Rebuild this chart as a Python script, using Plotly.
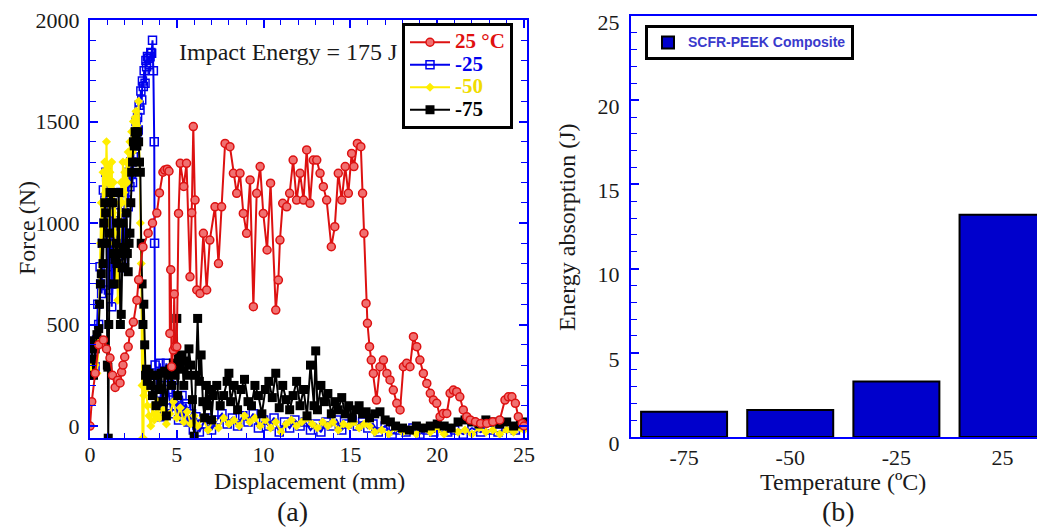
import plotly.graph_objects as go

# ---------------- Panel (a): force-displacement data ----------------
red_pts = [(0.0, 0), (0.1, 120), (0.3, 260), (0.5, 400), (0.77, 424), (0.95, 380), (1.15, 335), (1.3, 250),
           (1.45, 190), (1.6, 226), (1.73, 212), (1.82, 266), (1.9, 300), (2.0, 340), (2.2, 390), (2.3, 458),
           (2.5, 512), (2.7, 620), (2.8, 720), (3.05, 882), (3.35, 950), (3.6, 1000), (3.85, 1049), (4.0, 1148),
           (4.2, 1250), (4.3, 1261), (4.45, 1265), (4.55, 1255), (4.6, 456), (4.65, 770), (4.7, 292), (4.8, 374),
           (4.85, 650), (4.9, 390), (5.0, 390), (5.1, 1047), (5.2, 1294), (5.4, 1180), (5.56, 1294), (5.76, 735),
           (5.86, 1050), (5.95, 1475), (6.05, 1113), (6.15, 670), (6.34, 653), (6.53, 949), (6.72, 670), (6.9, 916),
           (7.2, 1080), (7.4, 800), (7.58, 1080), (7.78, 1392), (8.06, 1376), (8.26, 1245), (8.45, 1146), (8.64, 1245),
           (8.83, 1047), (9.02, 949), (9.22, 1212), (9.41, 588), (9.6, 1146), (9.8, 1278), (9.98, 1047), (10.2, 867),
           (10.4, 1196), (10.7, 571), (10.85, 719), (10.94, 916), (11.1, 1097), (11.33, 1080), (11.5, 1146), (11.7, 1310),
           (11.9, 1113), (12.1, 1245), (12.3, 1113), (12.48, 1360), (12.67, 1097), (12.86, 1310), (13.06, 1310),
           (13.25, 1245), (13.44, 1179), (13.63, 1113), (13.9, 883), (14.1, 982), (14.3, 1245), (14.5, 1113),
           (14.7, 1278), (14.88, 1146), (15.07, 1343), (15.2, 1278), (15.4, 1392), (15.6, 1376), (15.7, 1146),
           (15.78, 949), (15.9, 604), (15.98, 506), (16.1, 391), (16.2, 325), (16.32, 259), (16.5, 128), (16.7, 292),
           (16.9, 325), (17.1, 259), (17.28, 227), (17.47, 177), (17.67, 112), (17.86, 79), (18.05, 292), (18.24, 309),
           (18.43, 292), (18.63, 440), (18.82, 391), (19.0, 325), (19.2, 259), (19.4, 210), (19.6, 161), (19.78, 128),
           (19.97, 112), (20.16, 46), (20.35, 62), (20.55, 62), (20.74, 161), (20.93, 177), (21.12, 169), (21.3, 144),
           (21.5, 79), (21.7, 46), (21.9, 30), (22.2, 21), (22.5, 13), (22.85, 13), (23.2, 21), (23.6, 30),
           (23.9, 128), (24.1, 144), (24.3, 144), (24.5, 112), (24.67, 46), (24.9, 13), (25.0, 0)]

blue_pts = [(0.0, 300), (0.05, 250), (0.1, 391), (0.2, 280), (0.29, 292), (0.38, 424), (0.45, 600), (0.5, 500),
            (0.58, 785), (0.62, 700), (0.67, 653), (0.72, 900), (0.77, 1163), (0.82, 1000), (0.86, 1113), (0.92, 1250),
            (0.96, 1228), (1.0, 1100), (1.06, 670), (1.12, 900), (1.18, 1150), (1.25, 588), (1.3, 700), (1.34, 785),
            (1.4, 1050), (1.44, 949), (1.5, 700), (1.54, 883), (1.6, 1000), (1.63, 933), (1.7, 780), (1.73, 965),
            (1.78, 1150), (1.82, 785), (1.88, 900), (1.92, 818), (1.97, 1050), (2.0, 850), (2.05, 950), (2.1, 1113),
            (2.15, 1200), (2.2, 1080), (2.25, 1250), (2.3, 1179), (2.35, 1300), (2.4, 1245), (2.45, 1200), (2.5, 1327),
            (2.55, 1380), (2.6, 1442), (2.65, 1500), (2.69, 1425), (2.74, 1520), (2.78, 1458), (2.83, 1580),
            (2.88, 1557), (2.93, 1650), (2.98, 1606), (3.02, 1700), (3.07, 1672), (3.12, 1750), (3.17, 1688),
            (3.22, 1800), (3.26, 1770), (3.31, 1820), (3.36, 1811), (3.41, 1780), (3.46, 1819), (3.5, 1840),
            (3.55, 1836), (3.6, 1900), (3.65, 1750), (3.7, 1400), (3.72, 900), (3.75, 300), (3.8, 250), (3.9, 161),
            (4.03, 309), (4.1, 46), (4.2, 120), (4.3, 200), (4.4, 309), (4.5, 180), (4.6, 128), (4.7, 60), (4.8, 227),
            (4.9, 100), (5.0, 128), (5.1, 30), (5.2, 79), (5.3, 150), (5.4, 46), (5.5, 110), (5.57, 95), (5.65, 20),
            (5.76, 30), (5.85, 60), (5.95, -20), (6.1, 46), (6.3, -30), (6.5, 10), (6.8, 40), (7.0, -20), (7.3, 30),
            (7.6, 60), (7.9, 10), (8.2, 40), (8.5, 0), (8.8, 50), (9.1, 20), (9.4, 60), (9.7, -10), (10.0, 30),
            (10.3, 0), (10.6, 40), (10.9, -30), (11.2, 20), (11.5, -10), (11.8, 30), (12.1, 0), (12.4, 20),
            (12.7, -20), (13.0, 10), (13.3, -30), (13.6, 20), (13.9, 0), (14.2, 30), (14.5, -20), (14.8, 10),
            (15.1, 30), (15.4, 0), (15.7, 20), (16.0, -10), (16.3, 10), (16.6, -30), (17.0, 0), (17.4, -40),
            (17.8, -20), (18.2, -30), (18.6, -10), (19.0, -40), (19.4, -20), (19.8, -30), (20.2, -10), (20.6, -30),
            (21.0, -20), (21.5, -40), (22.0, -10), (22.5, -30), (23.0, -20), (23.5, -30), (24.0, -10), (24.5, -20),
            (25.0, 0)]

yellow_pts = [(0.0, 300), (0.1, 320), (0.2, 280), (0.3, 300), (0.4, 260), (0.5, 420), (0.55, 700), (0.6, 900),
              (0.65, 1100), (0.7, 800), (0.75, 1250), (0.8, 1000), (0.85, 1300), (0.9, 1150), (0.95, 1400),
              (1.0, 1200), (1.05, 1280), (1.1, 900), (1.15, 1250), (1.2, 1100), (1.25, 1300), (1.3, 1050),
              (1.35, 1200), (1.4, 950), (1.45, 1100), (1.5, 700), (1.55, 880), (1.6, 620), (1.65, 880), (1.7, 800),
              (1.75, 1000), (1.8, 1200), (1.85, 1100), (1.9, 1300), (1.95, 1150), (2.0, 1250), (2.05, 1050),
              (2.1, 1300), (2.15, 1200), (2.2, 1350), (2.25, 1250), (2.3, 1400), (2.35, 1300), (2.4, 1450),
              (2.45, 1350), (2.5, 1500), (2.55, 1400), (2.6, 1520), (2.65, 1550), (2.7, 1480), (2.75, 1400),
              (2.8, 1600), (2.85, 1300), (2.9, 1000), (2.95, 800), (3.0, 200), (3.02, -60), (3.05, 600), (3.08, -60),
              (3.1, 150), (3.2, 180), (3.3, 100), (3.4, 50), (3.5, 0), (3.6, 100), (3.7, 30), (3.8, 60), (3.9, 120),
              (4.0, 40), (4.2, 80), (4.4, 10), (4.6, 60), (4.8, 120), (5.0, 40), (5.2, 90), (5.4, 20), (5.6, 70),
              (5.8, 10), (6.0, 50), (6.2, 0), (6.5, 40), (6.8, -20), (7.1, 30), (7.4, -10), (7.7, 40), (8.0, 10),
              (8.3, 30), (8.6, 0), (8.9, 50), (9.2, 20), (9.5, 40), (9.8, 0), (10.1, 30), (10.4, -10), (10.7, 20),
              (11.0, -30), (11.3, 10), (11.6, 30), (11.9, 0), (12.2, 20), (12.5, 40), (12.8, 10), (13.1, -10),
              (13.4, 20), (13.7, 0), (14.0, 20), (14.3, -20), (14.6, 10), (14.9, 0), (15.2, 20), (15.5, -10),
              (15.8, 10), (16.1, 0), (16.4, -30), (16.8, -20), (17.2, -40), (17.6, -10), (18.0, -30), (18.4, -20),
              (18.8, -40), (19.2, -10), (19.6, -30), (20.0, -20), (20.4, -40), (20.8, -10), (21.2, -30), (21.6, -20),
              (22.0, -40), (22.4, -10), (22.8, -30), (23.2, -20), (23.6, -40), (24.0, -20), (24.4, -30), (24.8, -10),
              (25.0, -20)]

black_pts = [(0.0, 400), (0.05, 420), (0.1, 380), (0.15, 330), (0.2, 250), (0.3, 380), (0.4, 450), (0.5, 480),
             (0.55, 600), (0.6, 700), (0.65, 750), (0.7, 900), (0.75, 800), (0.8, 1000), (0.85, 1100), (0.9, 1050),
             (0.95, 900), (1.0, 300), (1.03, 290), (1.05, -60), (1.08, 500), (1.1, 950), (1.15, 1150), (1.2, 1100),
             (1.25, 1150), (1.3, 1100), (1.35, 850), (1.4, 700), (1.45, 820), (1.5, 900), (1.55, 800), (1.6, 1000),
             (1.65, 1150), (1.7, 850), (1.75, 500), (1.8, 550), (1.85, 780), (1.9, 1000), (1.95, 880), (2.0, 780),
             (2.05, 850), (2.1, 1050), (2.15, 850), (2.2, 760), (2.25, 900), (2.3, 950), (2.35, 1100), (2.4, 1250),
             (2.45, 1300), (2.5, 1400), (2.55, 1380), (2.6, 1450), (2.65, 1420), (2.7, 1380), (2.75, 1450),
             (2.8, 1400), (2.85, 1300), (2.9, 1250), (2.95, 900), (3.0, 700), (3.05, 500), (3.1, 600), (3.15, 400),
             (3.2, 250), (3.25, 280), (3.3, 220), (3.4, 260), (3.5, 200), (3.6, 150), (3.7, 250), (3.8, 100),
             (3.9, 250), (4.0, 180), (4.1, 260), (4.2, 120), (4.3, 270), (4.4, 50), (4.5, 250), (4.6, 280),
             (4.7, 200), (4.8, 310), (4.9, 250), (5.0, 530), (5.05, 150), (5.1, 330), (5.2, 280), (5.3, 350),
             (5.4, 200), (5.5, 320), (5.6, 250), (5.7, 380), (5.8, 300), (5.9, 130), (6.0, -50), (6.1, 250),
             (6.2, 530), (6.3, 220), (6.4, 350), (6.5, 120), (6.6, 40), (6.7, 200), (6.8, 100), (6.9, 180), (7.0, 30),
             (7.1, 150), (7.3, 200), (7.5, 100), (7.7, 150), (7.9, 220), (8.0, 260), (8.1, 120), (8.3, 200),
             (8.5, 80), (8.7, 180), (8.9, 230), (9.1, 120), (9.3, 100), (9.5, 200), (9.7, 150), (9.9, 60),
             (10.1, 180), (10.3, 220), (10.5, 140), (10.7, 260), (10.9, 90), (11.1, 200), (11.3, 130), (11.5, 80),
             (11.7, 150), (11.9, 220), (12.1, 100), (12.3, 180), (12.5, 50), (12.7, 300), (12.9, 100), (13.0, 370),
             (13.1, 80), (13.3, 200), (13.5, 120), (13.7, 160), (13.9, 60), (14.1, 120), (14.3, 80), (14.5, 140),
             (14.7, 60), (14.9, 100), (15.1, 40), (15.3, 80), (15.5, 100), (15.7, 60), (15.9, 70), (16.1, 40),
             (16.4, 60), (16.7, 70), (17.0, 30), (17.3, 20), (17.6, 0), (18.0, -10), (18.4, -20), (18.8, 0),
             (19.2, -10), (19.6, 0), (20.0, 10), (20.4, 0), (20.8, -10), (21.2, 20), (21.6, 30), (22.0, 20),
             (22.4, 10), (22.8, 30), (23.2, 20), (23.6, 10), (24.0, 20), (24.4, 0), (24.8, 10), (25.0, 20)]

# ---------------- Panel (b): energy absorption ----------------
temperatures = ["-75", "-50", "-25", "25"]
energy_absorbed = [1.5, 1.6, 3.3, 13.2]

x_ticks_a = [0, 5, 10, 15, 20, 25]
y_ticks_a = [0, 500, 1000, 1500, 2000]
y_ticks_b = [0, 5, 10, 15, 20, 25]

W, H = 1045, 530
OX, OY = 8, 8          # page body margin offset of the figure inside the window
SERIF = "Liberation Serif"
TXT = "#1a1a1a"
AXBLUE = "#0000ff"

def px_x(p):
    return (p - OX) / W

def px_y(p):
    return 1 - (p - OY) / H

fig = go.Figure()

series = [
    ("-25", blue_pts, "#0000ee", "#0000ee",
     dict(symbol="square-open", size=8, color="#0000ee", line=dict(width=1.5, color="#0000ee")), 2),
    ("-50", yellow_pts, "#ffee00", "#f0dc00",
     dict(symbol="diamond", size=7, color="#ffee00", line=dict(width=0)), 3),
    ("-75", black_pts, "#000000", "#000000",
     dict(symbol="square", size=9, color="#000000", line=dict(width=0)), 4),
    ("25 °C", red_pts, "#dd1111", "#e01010",
     dict(symbol="circle", size=8, color="#f07070", line=dict(width=1.5, color="#dd1111")), 1),
]
for name, pts, col, tcol, mk, rank in series:
    fig.add_trace(go.Scatter(
        x=[p[0] for p in pts], y=[p[1] for p in pts],
        mode="lines+markers",
        name=f"<b><span style='color:{tcol};font-size:21px'>{name}</span></b>",
        line=dict(color=col, width=2),
        marker=mk, legendrank=rank, legend="legend",
        xaxis="x", yaxis="y",
    ))

fig.add_trace(go.Bar(
    x=temperatures, y=energy_absorbed, width=0.81,
    marker=dict(color="#0000cc", line=dict(color="black", width=2)),
    name="<b><span style='font-size:14px'>SCFR-PEEK Composite</span></b>", legend="legend2",
    xaxis="x2", yaxis="y2",
))

axis_common = dict(
    showline=True, linecolor=AXBLUE, linewidth=2, mirror="ticks",
    ticks="inside", tickcolor=AXBLUE, tickwidth=1.5, ticklen=8,
    showgrid=False, zeroline=False, automargin=False, ticklabeloverflow="allow",
    tickfont=dict(family=SERIF, size=22, color=TXT),
)

fig.update_layout(
    width=W, height=H,
    margin=dict(l=0, r=0, t=0, b=0, autoexpand=False),
    paper_bgcolor="white", plot_bgcolor="white",
    xaxis=dict(domain=[px_x(90), px_x(527)], range=[0, 25.17], anchor="y",
               tickvals=x_ticks_a, ticklabelstandoff=-4,
               minor=dict(ticks="inside", dtick=1, tick0=0, ticklen=5, tickcolor=AXBLUE, tickwidth=1.2),
               **axis_common),
    yaxis=dict(domain=[px_y(438), px_y(20)], range=[-59, 2000], anchor="x",
               tickvals=y_ticks_a, ticklabelstandoff=4,
               minor=dict(ticks="inside", dtick=100, tick0=0, ticklen=6, tickcolor=AXBLUE, tickwidth=1.2),
               **axis_common),
    xaxis2=dict(domain=[px_x(631), px_x(1045)], range=[-0.5, 3.4], type="category", anchor="y2",
                showline=True, linecolor=AXBLUE, linewidth=2, mirror=True, ticks="",
                showgrid=False, zeroline=False, ticklabelstandoff=0, automargin=False,
                ticklabeloverflow="allow",
                tickfont=dict(family=SERIF, size=22, color=TXT)),
    yaxis2=dict(domain=[px_y(437), px_y(16)], range=[0, 25], anchor="x2",
                tickvals=y_ticks_b, ticklabelstandoff=5, ticklabelshift=6,
                minor=dict(ticks="inside", dtick=1, tick0=0, ticklen=6, tickcolor=AXBLUE, tickwidth=1.2),
                **axis_common),
    legend=dict(x=px_x(402), y=px_y(23), xanchor="left", yanchor="top",
                bgcolor="white", bordercolor="black", borderwidth=3,
                font=dict(family=SERIF, size=15, color=TXT), itemwidth=40, tracegroupgap=0),
    legend2=dict(x=px_x(645), y=px_y(25), xanchor="left", yanchor="top",
                 bgcolor="white", bordercolor="black", borderwidth=3,
                 font=dict(family="Liberation Sans", size=11, color="#3a3acc")),
    showlegend=True,
)

annots = [
    ("Force (N)", 27, 228, 24, -90),
    ("Displacement (mm)", 309, 481, 24, 0),
    ("(a)", 292, 511, 28, 0),
    ("Impact Energy = 175 J", 288, 52, 24, 0),
    ("Energy absorption (J)", 567, 227, 24, -90),
    ("Temperature (ºC)", 843, 482, 24, 0),
    ("(b)", 838, 511, 28, 0),
]
for text, xp, yp, fs, ang in annots:
    fig.add_annotation(text=text, x=px_x(xp), y=px_y(yp), xref="paper", yref="paper",
                       xanchor="center", yanchor="middle", showarrow=False, textangle=ang,
                       font=dict(family=SERIF, size=fs, color=TXT))

fig.write_html("out.html")
